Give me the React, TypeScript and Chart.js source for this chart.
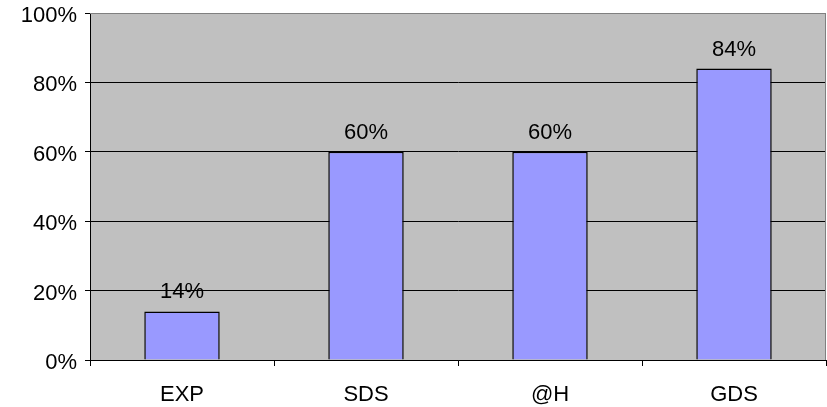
import React, { useEffect, useRef } from "react";
import { Chart, registerables } from "chart.js";

Chart.register(...registerables);

const categories = ["EXP", "SDS", "@H", "GDS"];
const values = [14, 60, 60, 84];
const yTicks = [0, 20, 40, 60, 80, 100];

const FONT = "'Liberation Sans', Arial, sans-serif";

// grey plot area with a thin grey frame, like the old spreadsheet charts
const plotBackground = {
  id: "plotBackground",
  beforeDraw(chart) {
    const { ctx, chartArea } = chart;
    ctx.save();
    ctx.fillStyle = "#C0C0C0";
    ctx.fillRect(chartArea.left, chartArea.top, chartArea.right - chartArea.left, chartArea.bottom - chartArea.top);
    ctx.restore();
  },
  afterDraw(chart) {
    const { ctx, chartArea } = chart;
    ctx.save();
    ctx.strokeStyle = "#808080";
    ctx.lineWidth = 1;
    ctx.beginPath();
    ctx.moveTo(chartArea.left, chartArea.top + 0.5);
    ctx.lineTo(chartArea.right - 0.5, chartArea.top + 0.5);
    ctx.lineTo(chartArea.right - 0.5, chartArea.bottom);
    ctx.stroke();
    ctx.restore();
  },
};

// value labels above each bar
const barLabels = {
  id: "barLabels",
  afterDatasetsDraw(chart) {
    const { ctx } = chart;
    const meta = chart.getDatasetMeta(0);
    ctx.save();
    ctx.font = `22px ${FONT}`;
    ctx.fillStyle = "#000";
    ctx.textAlign = "center";
    ctx.textBaseline = "alphabetic";
    meta.data.forEach((bar, i) => {
      ctx.fillText(values[i] + "%", bar.x, bar.y - 13);
    });
    ctx.restore();
  },
};

const App = () => {
  const chartRef = useRef(null);

  useEffect(() => {
    const ctx = chartRef.current.getContext("2d");
    const chart = new Chart(ctx, {
      type: "bar",
      data: {
        labels: categories,
        datasets: [
          {
            data: values,
            backgroundColor: "#9999FF",
            borderColor: "#000000",
            borderWidth: 1.5,
            categoryPercentage: 1,
            barPercentage: 0.41,
          },
        ],
      },
      options: {
        responsive: true,
        maintainAspectRatio: false,
        animation: false,
        layout: { padding: { top: 13, right: 1, left: 0, bottom: 0 } },
        plugins: {
          legend: { display: false },
          tooltip: { enabled: false },
        },
        scales: {
          x: {
            grid: {
              display: true,
              drawOnChartArea: false,
              drawTicks: true,
              tickLength: 6,
              offset: true,
              tickColor: "#000",
            },
            border: { color: "#000", width: 1 },
            ticks: {
              color: "#000",
              font: { family: FONT, size: 22 },
              padding: 16,
            },
            afterFit: (scale) => {
              scale.height = 47;
              scale.paddingLeft = 0;
              scale.paddingRight = 0;
            },
          },
          y: {
            min: 0,
            max: 100,
            afterBuildTicks: (scale) => {
              scale.ticks = yTicks.map((v) => ({ value: v }));
            },
            grid: {
              color: (c) => (c.tick && c.tick.value === 100 ? "#808080" : "#000"),
              tickColor: "#000",
              tickLength: 5,
              lineWidth: 1,
            },
            border: { color: "#000", width: 1 },
            ticks: {
              color: "#000",
              font: { family: FONT, size: 22 },
              padding: 8,
              labelOffset: 3,
              callback: (v) => v + "%",
            },
            afterFit: (scale) => {
              scale.width = 90;
              scale.paddingTop = 0;
              scale.paddingBottom = 0;
            },
          },
        },
      },
      plugins: [plotBackground, barLabels],
    });

    return () => {
      chart.destroy();
    };
  }, []);

  return (
    <div style={{ position: "absolute", top: 0, left: 0, width: 827, height: 407 }}>
      <canvas ref={chartRef} />
    </div>
  );
};

export default App;
